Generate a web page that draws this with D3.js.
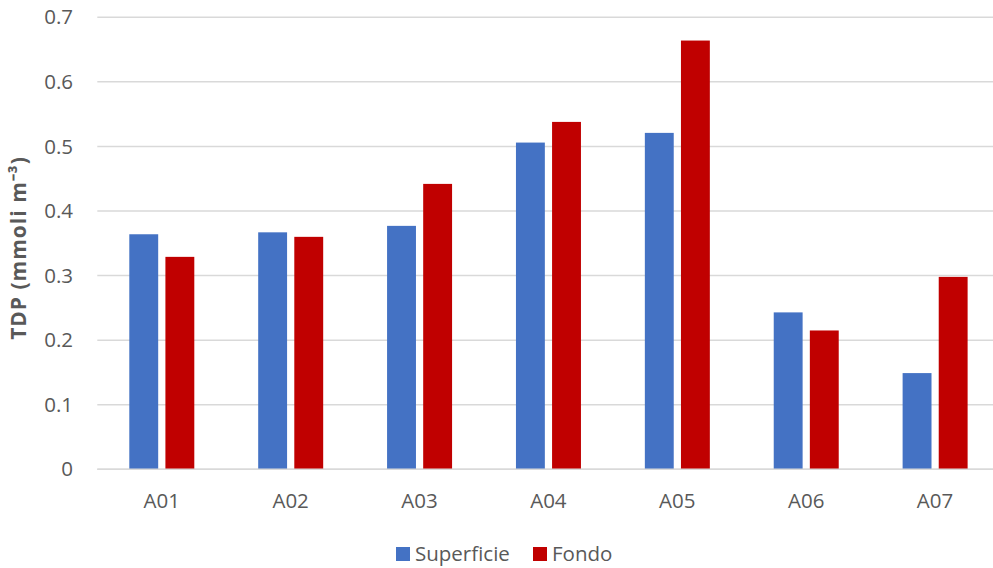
<!DOCTYPE html>
<html>
<head>
<meta charset="utf-8">
<script src="https://cdn.jsdelivr.net/npm/d3@7"></script>
<style>
  html, body { margin: 0; padding: 0; background: #fff; }
  svg { display: block; }
</style>
</head>
<body>
<svg id="chart" width="993" height="568"></svg>
<script>
// Stations along the x axis
const categories = ["A01", "A02", "A03", "A04", "A05", "A06", "A07"];
// Series names shown in the legend
const seriesNames = ["Superficie", "Fondo"];
// TDP values (mmoli m^-3) per station
const superficie = [0.364, 0.367, 0.377, 0.506, 0.521, 0.243, 0.149];
const fondo      = [0.329, 0.360, 0.442, 0.538, 0.664, 0.215, 0.298];
// Y axis ticks
const yTicks = [0, 0.1, 0.2, 0.3, 0.4, 0.5, 0.6, 0.7];

const colors = { "Superficie": "#4472C4", "Fondo": "#C00000" };
const seriesValues = { "Superficie": superficie, "Fondo": fondo };

const svg = d3.select("#chart");
const fontFamily = "'Open Sans', 'Liberation Sans', sans-serif";
const textColor = "#595959";
const labelSize = 20.5;

const plot = { left: 97.3, right: 999.5, top: 17.3, bottom: 469.3 };

const x0 = d3.scaleBand().domain(categories).range([plot.left, plot.right]).padding(0);
const x1 = d3.scaleBand().domain(seriesNames).range([32, 97]).paddingInner(0.2);
const y = d3.scaleLinear().domain([0, 0.7]).range([plot.bottom, plot.top]);

// Horizontal gridlines
svg.append("g")
  .selectAll("line")
  .data(yTicks)
  .join("line")
  .attr("x1", plot.left)
  .attr("x2", plot.right)
  .attr("y1", d => y(d))
  .attr("y2", d => y(d))
  .attr("stroke", "#d9d9d9")
  .attr("stroke-width", 1.5);

// Y tick labels
svg.append("g")
  .selectAll("text")
  .data(yTicks)
  .join("text")
  .attr("x", 73)
  .attr("y", d => y(d))
  .attr("dy", "0.35em")
  .attr("text-anchor", "end")
  .attr("font-family", fontFamily)
  .attr("font-size", labelSize)
  .attr("fill", textColor)
  .text(d => d === 0 ? "0" : d3.format(".1f")(d));

// Bars
const groups = svg.append("g")
  .selectAll("g")
  .data(categories)
  .join("g")
  .attr("transform", d => `translate(${x0(d)},0)`);

groups.selectAll("rect")
  .data((d, i) => seriesNames.map(s => ({ s, v: seriesValues[s][i] })))
  .join("rect")
  .attr("x", d => x1(d.s))
  .attr("width", x1.bandwidth())
  .attr("y", d => y(d.v))
  .attr("height", d => y(0) - y(d.v))
  .attr("fill", d => colors[d.s]);

// Baseline
svg.append("line")
  .attr("x1", plot.left).attr("x2", plot.right)
  .attr("y1", y(0)).attr("y2", y(0))
  .attr("stroke", "#d9d9d9").attr("stroke-width", 1.5);

// X labels
svg.append("g")
  .selectAll("text")
  .data(categories)
  .join("text")
  .attr("x", d => x0(d) + x0.bandwidth() / 2)
  .attr("y", 508)
  .attr("text-anchor", "middle")
  .attr("font-family", fontFamily)
  .attr("font-size", labelSize)
  .attr("fill", textColor)
  .text(d => d);

// Y axis title
svg.append("text")
  .attr("transform", "translate(26,248) rotate(-90)")
  .attr("text-anchor", "middle")
  .attr("font-family", fontFamily)
  .attr("font-size", 21)
  .attr("font-weight", "bold")
  .attr("letter-spacing", 1)
  .attr("fill", textColor)
  .text("TDP (mmoli m⁻³)");

// Legend
const legendItems = [
  { name: "Superficie", sx: 396, tx: 415 },
  { name: "Fondo", sx: 533, tx: 552 }
];
const legend = svg.append("g");
legend.selectAll("rect")
  .data(legendItems)
  .join("rect")
  .attr("x", d => d.sx)
  .attr("y", 547)
  .attr("width", 14)
  .attr("height", 14)
  .attr("fill", d => colors[d.name]);
legend.selectAll("text")
  .data(legendItems)
  .join("text")
  .attr("x", d => d.tx)
  .attr("y", 561)
  .attr("font-family", fontFamily)
  .attr("font-size", labelSize)
  .attr("fill", textColor)
  .text(d => d.name);
</script>
</body>
</html>
